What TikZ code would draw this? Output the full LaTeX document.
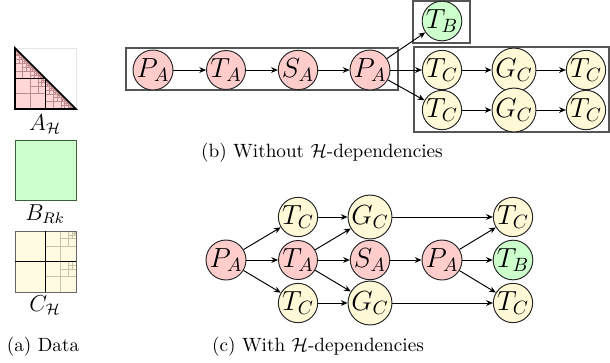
\documentclass[tikz,border=0pt]{standalone}
\usetikzlibrary{arrows.meta}
\definecolor{pinkf}{RGB}{255,204,204}
\definecolor{greenf}{RGB}{204,255,204}
\definecolor{creamf}{RGB}{255,249,215}
\definecolor{apink}{RGB}{255,215,215}
\definecolor{aline}{RGB}{190,140,140}
\definecolor{ccream}{RGB}{255,250,225}
\definecolor{cline}{RGB}{200,195,165}
\definecolor{bedge}{RGB}{60,95,60}
\definecolor{boxc}{RGB}{85,85,85}
\newcommand\offblk[5]{%
  \draw[#4] (#1,#2) rectangle ++(#3,#3);
  \foreach \dd in {1,...,6}{%
    \pgfmathsetmacro\blkt{#3/2^(\dd-1)}%
    \ifdim\blkt pt<#5pt\else
      \draw[#4] ({#1+#3-\blkt/2},#2) -- ++(0,\blkt) ({#1+#3-\blkt},{#2+\blkt/2}) -- ++(\blkt,0);
    \fi
  }%
}
\tikzset{
  tn/.style={circle,draw=black!85,line width=0.5pt,minimum size=20.3pt,inner sep=0pt,font=\Large},
  pa/.style={tn,fill=pinkf},
  tc/.style={tn,fill=creamf},
  tb/.style={tn,fill=greenf},
  arr/.style={-{Stealth[length=3.5pt,width=3pt]},line width=0.5pt},
  grp/.style={draw=boxc,line width=0.6pt},
  mlabel/.style={font=\large,inner sep=0pt},
}
\begin{document}
\begin{tikzpicture}[x=0.52083pt,y=-0.52083pt]
\useasboundingbox (0,0) rectangle (610,362);
% ---------- (a) data ----------
\begin{scope}[shift={(15,48)},scale=0.953]
  \draw[black!10] (0,0) rectangle (64,64);
  \fill[apink] (0,0) -- (0,64) -- (64,64) -- cycle;
  \foreach \k in {2,...,5}{
    \pgfmathsetmacro\bs{64/2^\k}
    \pgfmathtruncatemacro\nn{2^(\k-1)-1}
    \foreach \i in {0,...,\nn}{
      \pgfmathsetmacro\bx{2*\i*\bs}
      \pgfmathsetmacro\by{(2*\i+1)*\bs}
      \offblk{\bx}{\by}{\bs}{aline,line width=0.2pt}{2}
    }
  }
  \offblk{0}{32}{32}{aline,line width=0.3pt}{4}
  \draw[line width=0.9pt] (0,0) -- (0,64) -- (64,64) -- cycle;
  \draw[line width=0.9pt] (0,32) -- (32,32) -- (32,64);
\end{scope}
\draw[bedge,fill=greenf,line width=0.5pt] (15,140) rectangle (76,200);
\begin{scope}[shift={(15,231)},scale=0.953]
  \fill[ccream] (0,0) rectangle (64,64);
  \offblk{32}{0}{32}{cline,line width=0.3pt}{2}
  \offblk{32}{32}{32}{cline,line width=0.3pt}{8}
  \draw[black!60,line width=0.5pt] (0,0) rectangle (64,64);
  \draw[line width=1pt] (32,0) -- (32,64) (0,32) -- (64,32);
\end{scope}
\node[mlabel] (la) at (45,124) {$A_{\mathcal{H}}$};
\node[mlabel] (lb) at (45,214) {$B_{Rk}$};
\node[mlabel] (lc) at (45,305) {$C_{\mathcal{H}}$};
\node (capa) at (43,347) {(a) Data};
% ---------- (b) ----------
\draw[grp] (126,48) rectangle (398,90);
\draw[grp] (413,1) rectangle (470,43);
\draw[grp] (414,47) rectangle (609,132);
\node[pa] (b1) at (153,70) {$P_A$};
\node[pa] (b2) at (226,70) {$T_A$};
\node[pa] (b3) at (298,70) {$S_A$};
\node[pa] (b4) at (370,70) {$P_A$};
\node[tb] (b5) at (442,21) {$T_B$};
\node[tc] (b6) at (442,70) {$T_C$};
\node[tc] (b7) at (514,70) {$G_C$};
\node[tc] (b8) at (586,70) {$T_C$};
\node[tc] (b9) at (442,110) {$T_C$};
\node[tc] (b10) at (514,110) {$G_C$};
\node[tc] (b11) at (586,110) {$T_C$};
\draw[arr] (b1) -- (b2);
\draw[arr] (b2) -- (b3);
\draw[arr] (b3) -- (b4);
\draw[arr] (b4) -- (b5);
\draw[arr] (b4) -- (b6);
\draw[arr] (b4) -- (b9);
\draw[arr] (b6) -- (b7);
\draw[arr] (b7) -- (b8);
\draw[arr] (b9) -- (b10);
\draw[arr] (b10) -- (b11);
\node (capb) at (322,153) {(b) Without $\mathcal{H}$-dependencies};
% ---------- (c) ----------
\node[pa] (c1) at (226,260) {$P_A$};
\node[tc] (c2) at (298,217) {$T_C$};
\node[pa] (c3) at (298,260) {$T_A$};
\node[tc] (c4) at (298,303) {$T_C$};
\node[tc] (c5) at (370,217) {$G_C$};
\node[pa] (c6) at (370,260) {$S_A$};
\node[tc] (c7) at (370,303) {$G_C$};
\node[pa] (c8) at (442,260) {$P_A$};
\node[tc] (c9) at (513,217) {$T_C$};
\node[tb] (c10) at (513,260) {$T_B$};
\node[tc] (c11) at (513,303) {$T_C$};
\draw[arr] (c1) -- (c2);
\draw[arr] (c1) -- (c3);
\draw[arr] (c1) -- (c4);
\draw[arr] (c2) -- (c5);
\draw[arr] (c3) -- (c5);
\draw[arr] (c3) -- (c6);
\draw[arr] (c3) -- (c7);
\draw[arr] (c4) -- (c7);
\draw[arr] (c5) -- (c9);
\draw[arr] (c6) -- (c8);
\draw[arr] (c7) -- (c11);
\draw[arr] (c8) -- (c9);
\draw[arr] (c8) -- (c10);
\draw[arr] (c8) -- (c11);
\node (capc) at (318,347) {(c) With $\mathcal{H}$-dependencies};
\end{tikzpicture}
\end{document}
